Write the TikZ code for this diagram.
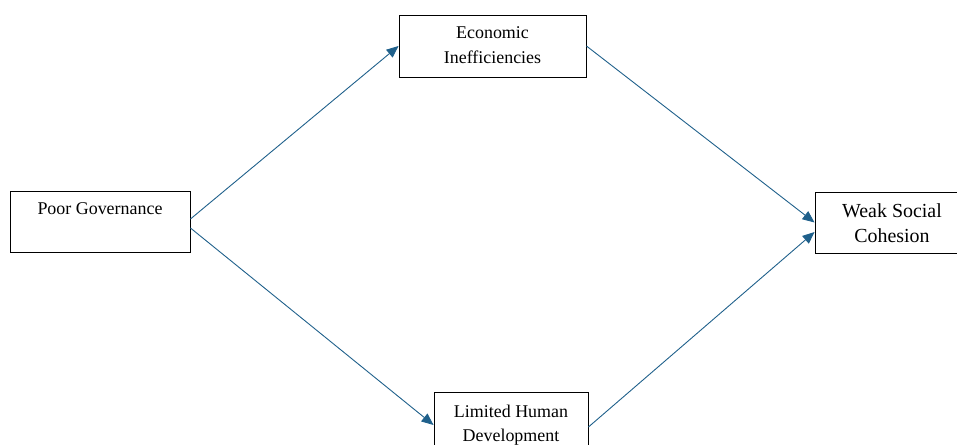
\documentclass[tikz,border=0pt]{standalone}
\usepackage{fontspec}
\setmainfont{Liberation Serif}
\usetikzlibrary{arrows.meta, positioning, calc}
\definecolor{linkBlue}{RGB}{31,96,139}
\tikzset{
    causeBox/.style={draw=black, line width=0.9pt, fill=white, inner sep=0pt},
    boxText/.style={font=\fontsize{18}{24.5}\selectfont, align=center, anchor=north, inner sep=0pt},
    linkArrow/.style={-{Triangle[length=12bp, width=10bp]}, draw=linkBlue, line width=0.9pt}
}

\begin{document}
\begin{tikzpicture}[x=1bp, y=-1bp]
    \useasboundingbox (0,0) rectangle (957,445);
    \clip (0,0) rectangle (957,445);
    % boxes
    \node[causeBox, minimum width=180bp, minimum height=61bp] (GovBox) at (100,221.5) {};
    \node[causeBox, minimum width=187bp, minimum height=62bp] (EconBox) at (492.5,46) {};
    \node[causeBox, minimum width=154bp, minimum height=66bp] (HumanBox) at (511,425) {};
    \node[causeBox, minimum width=154bp, minimum height=61bp] (CohesionBox) at (892,222.5) {};
    % texts
    \node[boxText] (GovText) at ([yshift=-12bp]GovBox.north) {Poor Governance};
    \node[boxText] (EconText) at ([yshift=-12bp]EconBox.north) {Economic\\Inefficiencies};
    \node[boxText] (HumanText) at ([yshift=-13bp]HumanBox.north) {Limited Human\\Development};
    \node[boxText, font=\fontsize{20}{25}\selectfont] (CohesionText) at ([yshift=-12bp]CohesionBox.north) {Weak Social\\Cohesion};
    % links
    \draw[linkArrow] ([yshift=2.5bp]GovBox.east) -- (EconBox.west);
    \draw[linkArrow] ([yshift=-6.5bp]GovBox.east) -- (HumanBox.west);
    \draw[linkArrow] (EconBox.east) -- (CohesionBox.west);
    \draw[linkArrow] ([yshift=-2bp]HumanBox.east) -- ([yshift=-9.5bp]CohesionBox.west);
\end{tikzpicture}
\end{document}
